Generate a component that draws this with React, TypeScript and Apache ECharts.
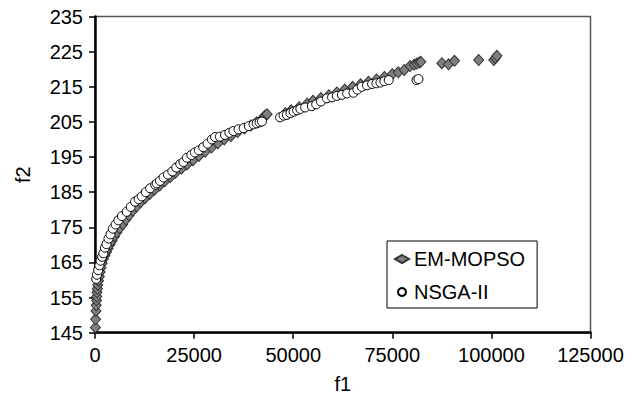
import React, { useEffect, useRef } from "react";
import * as echarts from "echarts";

const emX = [100, 150, 250, 300, 400, 450, 500, 600, 700, 900, 1100, 1300, 1500, 1800, 2100, 2500, 2900, 3300, 3800, 4300, 4900, 5500, 6200, 7000, 7800, 8600, 9500, 10500, 11500, 12600, 13800, 15000, 16300, 17600, 19000, 20300, 21800, 23200, 24700, 26200, 27800, 29400, 31000, 32600, 34300, 36000, 37700, 39300, 40800, 42000, 42500, 42900, 43400,
  48000, 49500, 51500, 53500, 55000, 57000, 59000, 61000, 63000, 65000, 67000, 69000, 71000, 73000, 75000, 76500, 78000, 79500, 80500, 81200, 81800, 82200,
  87500, 89200, 90700, 96800, 100600, 101000, 101400];
const emY = [146.5, 148.8, 151.2, 152.8, 154.2, 155.3, 156.5, 157.5, 158.6, 159.8, 161.0, 162.3, 163.5, 164.8, 166.0, 167.0, 168.0, 169.0, 170.1, 171.2, 172.4, 173.5, 174.7, 175.9, 177.2, 178.4, 179.7, 180.9, 182.1, 183.3, 184.5, 185.7, 186.9, 188.1, 189.3, 190.5, 191.7, 192.9, 194.1, 195.3, 196.5, 197.7, 198.9, 200.0, 201.0, 202.1, 203.1, 204.0, 204.9, 205.7, 206.2, 206.8, 207.2,
  207.5, 208.3, 209.2, 210.2, 211.0, 211.8, 212.6, 213.4, 214.2, 215.0, 215.7, 216.4, 217.1, 217.8, 218.6, 219.1, 219.8, 220.9, 221.3, 221.6, 221.9, 222.1,
  221.7, 221.4, 222.4, 222.6, 222.6, 223.2, 223.8];

const nsX = [300, 500, 800, 1100, 1400, 1800, 2100, 2500, 2900, 3400, 3900, 4500, 5200, 5900, 6800, 8000, 9000, 10100, 11000, 11800, 12800, 13900, 15200, 15600, 16400, 17300, 18400, 19500, 20500, 21500, 22300, 23200, 24300, 25200, 26200, 27300, 28400, 29500, 30300, 31500, 32800, 33900, 34900, 36200, 37500, 38800, 40000, 40800, 41500, 42100,
  46700, 47600, 48400, 49300, 50100, 51000, 51800, 53000, 54700, 55800, 57000, 58500, 59800, 61000, 62300, 63600, 65200, 66200, 67300, 68600, 69900, 71000, 72000, 73000, 74100, 81100, 81600];
const nsY = [160.3, 161.5, 162.8, 164.2, 165.5, 166.6, 167.6, 169.2, 170.2, 171.8, 173.0, 174.6, 175.8, 177.0, 178.2, 179.4, 180.8, 182.3, 183.0, 183.8, 185.0, 186.1, 187.1, 187.5, 188.2, 189.2, 190.0, 190.9, 192.0, 193.0, 193.6, 194.8, 195.6, 196.3, 196.9, 197.8, 198.8, 200.0, 200.7, 200.8, 201.3, 201.9, 202.4, 202.9, 203.2, 203.8, 204.3, 204.6, 204.9, 205.1,
  206.3, 206.8, 207.0, 207.5, 207.9, 208.3, 208.7, 209.1, 209.5, 210.0, 210.8, 211.7, 212.0, 212.4, 212.7, 213.1, 213.3, 214.2, 215.0, 215.4, 215.8, 216.0, 216.2, 216.6, 216.9, 216.9, 217.2];

const xTicks = { min: 0, max: 125000, interval: 25000 };
const yTicks = { min: 145, max: 235, interval: 10 };

const FONT = "'Liberation Sans', Arial, sans-serif";

export default function App() {
  const ref = useRef<HTMLDivElement>(null);
  useEffect(() => {
    if (!ref.current) return;
    const chart = echarts.init(ref.current, null, { renderer: "svg" });
    const em = emX.map((x, i) => [x, emY[i]]);
    const ns = nsX.map((x, i) => [x, nsY[i]]);
    chart.setOption({
      animation: false,
      backgroundColor: "#ffffff",
      textStyle: { fontFamily: FONT, color: "#000" },
      grid: {
        left: 95, right: 46.5, top: 16.5, bottom: 68.3,
        show: true, borderColor: "#555", borderWidth: 1.5, backgroundColor: "transparent",
      },
      legend: {
        orient: "vertical",
        left: 387, top: 241,
        backgroundColor: "#fff",
        borderColor: "#000", borderWidth: 1,
        padding: [8, 12, 6, 7],
        itemWidth: 14, itemHeight: 8, itemGap: 13,
        textStyle: { fontFamily: FONT, fontSize: 20, color: "#000" },
        data: ["EM-MOPSO", "NSGA-II"],
      },
      xAxis: {
        type: "value",
        min: xTicks.min, max: xTicks.max, interval: xTicks.interval,
        name: "f1", nameLocation: "middle", nameGap: 41,
        nameTextStyle: { fontFamily: FONT, fontSize: 20, color: "#000" },
        axisLine: { show: true, lineStyle: { color: "#000", width: 2.5 } },
        axisTick: { show: true, inside: false, length: 6, lineStyle: { color: "#000", width: 1.5 } },
        axisLabel: { fontFamily: FONT, fontSize: 20, color: "#000", margin: 12, formatter: (v: number) => String(v) },
        splitLine: { show: false },
      },
      yAxis: {
        type: "value",
        min: yTicks.min, max: yTicks.max, interval: yTicks.interval,
        name: "f2", nameLocation: "middle", nameGap: 62,
        nameTextStyle: { fontFamily: FONT, fontSize: 20, color: "#000" },
        axisLine: { show: true, onZero: false, lineStyle: { color: "#000", width: 2.5 } },
        axisTick: { show: true, inside: false, length: 6, lineStyle: { color: "#000", width: 1.5 } },
        axisLabel: { fontFamily: FONT, fontSize: 20, color: "#000", margin: 12, formatter: (v: number) => String(v) },
        splitLine: { show: false },
      },
      series: [
        {
          name: "EM-MOPSO",
          type: "scatter",
          symbol: "diamond",
          symbolSize: [10, 11],
          data: em,
          itemStyle: { color: "#7f7f7f", borderColor: "#333", borderWidth: 1, opacity: 1 },
        },
        {
          name: "NSGA-II",
          type: "scatter",
          symbol: "circle",
          symbolSize: 9,
          data: ns,
          itemStyle: { color: "#ffffff", borderColor: "#000", borderWidth: 1, opacity: 1 },
        },
      ],
    });
    return () => chart.dispose();
  }, []);
  return (
    <div
      ref={ref}
      style={{ position: "absolute", left: 0, top: 0, width: 637, height: 401 }}
    />
  );
}
